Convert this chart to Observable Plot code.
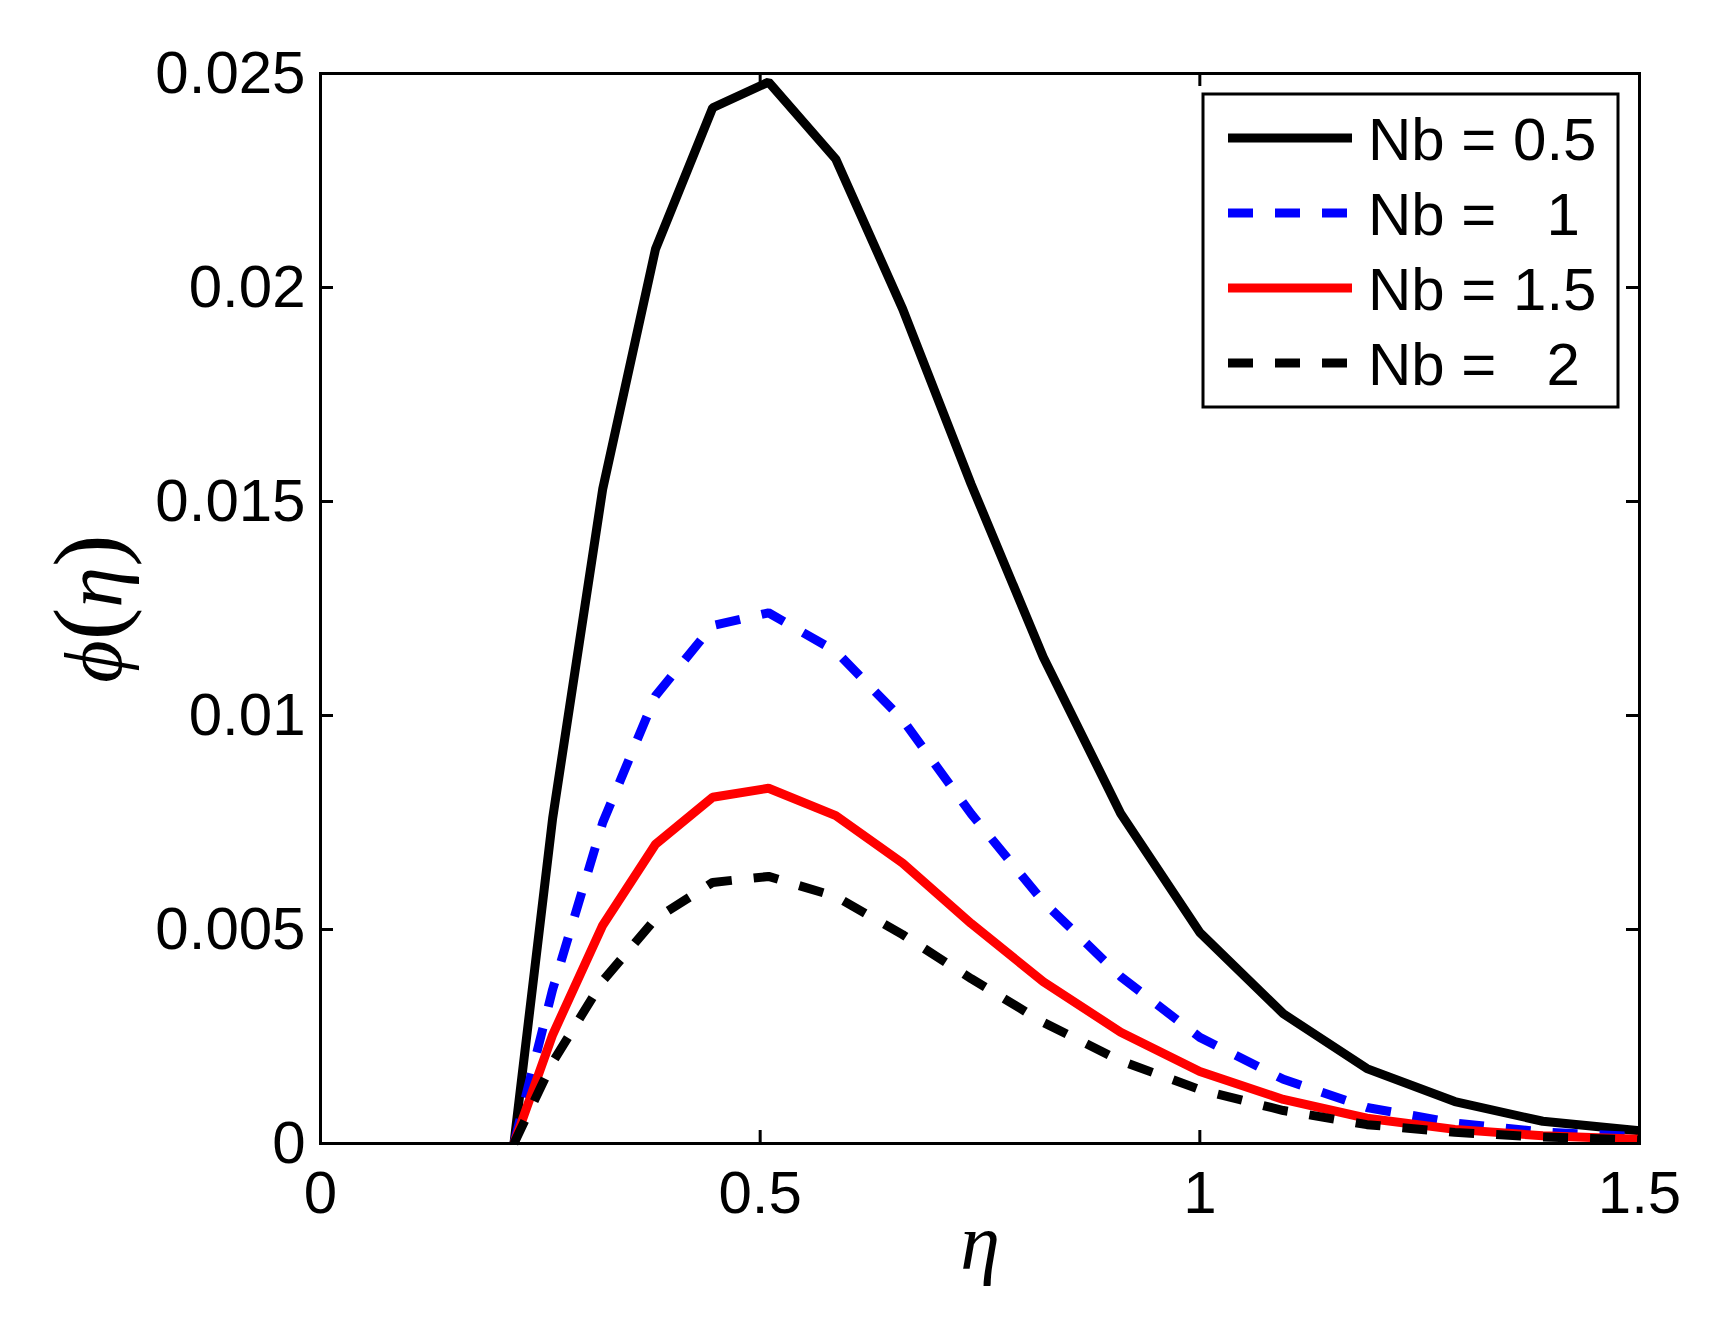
<!DOCTYPE html>
<html>
<head>
<meta charset="utf-8">
<script src="https://cdn.jsdelivr.net/npm/d3@7"></script>
<script src="https://cdn.jsdelivr.net/npm/@observablehq/plot@0.6"></script>
<style>
  html, body { margin: 0; padding: 0; background: #ffffff; }
  #chart svg { display: block; }
</style>
</head>
<body>
<div id="chart"></div>
<script>
// ---- data ----
const eta     = [0.22, 0.264, 0.321, 0.381, 0.446, 0.5095, 0.586, 0.662, 0.74, 0.822, 0.91, 1.0, 1.095, 1.19, 1.29, 1.39, 1.5];
const phiNb05 = [0, 0.0076, 0.0153, 0.0209, 0.0242, 0.0248, 0.0230, 0.0195, 0.0154, 0.01136, 0.00771, 0.00493, 0.00303, 0.00175, 0.00098, 0.00052, 0.00030];
const phiNb1  = [0, 0.0036, 0.0075, 0.01046, 0.0121, 0.0124, 0.0115, 0.0099, 0.0077, 0.00565, 0.0039, 0.00248, 0.00150, 0.00084, 0.00048, 0.00027, 0.00016];
const phiNb15 = [0, 0.00254, 0.0051, 0.00699, 0.00809, 0.0083, 0.00766, 0.00655, 0.00514, 0.00378, 0.00260, 0.00168, 0.00103, 0.00059, 0.00033, 0.00018, 0.00010];
const phiNb2  = [0, 0.0019, 0.0038, 0.00525, 0.0061, 0.00624, 0.00577, 0.00488, 0.00385, 0.00283, 0.00193, 0.00126, 0.00077, 0.00044, 0.00026, 0.00015, 0.00008];

const seriesNames  = ["Nb = 0.5", "Nb =   1", "Nb = 1.5", "Nb =   2"];
const seriesValues = [phiNb05, phiNb1, phiNb15, phiNb2];
const seriesColors = ["#000000", "#0000ff", "#ff0000", "#000000"];
const seriesDash   = [null, "25,22", null, "25,22"];

const xTicks = [0, 0.5, 1, 1.5];
const xTickLabels = ["0", "0.5", "1", "1.5"];
const yTicks = [0, 0.005, 0.01, 0.015, 0.02, 0.025];
const yTickLabels = ["0", "0.005", "0.01", "0.015", "0.02", "0.025"];
const xLabel = "η";
const yLabel = "ϕ(η)";

// ---- layout ----
const W = 1724, H = 1331;
const mL = 320, mR = 85, mT = 73, mB = 188;
const frameW = W - mL - mR, frameH = H - mT - mB;
const tickLen = 13;
const lineW = 9;
const sansFont = "'Liberation Sans', Arial, Helvetica, sans-serif";
const serifFont = "'Liberation Serif', 'Times New Roman', serif";

const rows = seriesNames.map((name, k) => eta.map((x, i) => ({eta: x, phi: seriesValues[k][i], series: name})));

const lineMarks = rows.map((data, k) => Plot.line(data, {
  x: "eta", y: "phi",
  stroke: seriesColors[k],
  strokeWidth: lineW,
  strokeDasharray: seriesDash[k] || undefined,
  strokeLinecap: "butt",
  strokeLinejoin: "miter"
}));

const chart = Plot.plot({
  width: W, height: H,
  marginLeft: mL, marginRight: mR, marginTop: mT, marginBottom: mB,
  x: {domain: [0, 1.5]},
  y: {domain: [0, 0.025]},
  style: {fontFamily: sansFont, fontSize: "60px", color: "#000", background: "#fff"},
  marks: [
    ...lineMarks,
    Plot.frame({stroke: "#000", strokeWidth: 3}),
    Plot.tickX(xTicks, {x: d => d, insetTop: frameH - tickLen, stroke: "#000", strokeWidth: 3}),
    Plot.tickX(xTicks, {x: d => d, insetBottom: frameH - tickLen, stroke: "#000", strokeWidth: 3}),
    Plot.tickY(yTicks, {y: d => d, insetRight: frameW - tickLen, stroke: "#000", strokeWidth: 3}),
    Plot.tickY(yTicks, {y: d => d, insetLeft: frameW - tickLen, stroke: "#000", strokeWidth: 3}),
    Plot.axisX(xTicks, {tickSize: 0, tickPadding: 27, tickFormat: d => xTickLabels[xTicks.indexOf(d)], label: null, fontSize: 60}),
    Plot.axisY(yTicks, {tickSize: 0, tickPadding: 15, tickFormat: d => yTickLabels[yTicks.indexOf(d)], label: null, fontSize: 60}),
    Plot.text([xLabel], {frameAnchor: "bottom", text: d => d, dy: 125, lineAnchor: "bottom", fontFamily: serifFont, fontStyle: "italic", fontSize: 80}),
    Plot.text([yLabel], {frameAnchor: "left", text: d => d, dx: -226, rotate: -90, textAnchor: "middle", lineAnchor: "middle", fontFamily: serifFont, fontSize: 82})
  ]
});

document.getElementById("chart").appendChild(chart);

const svg = d3.select(chart);

// italic ϕ and η, upright (larger) parentheses
svg.selectAll("text").filter(function () { return this.textContent === yLabel; })
  .html('<tspan font-style="italic">ϕ</tspan><tspan font-size="98">(</tspan><tspan font-style="italic">η</tspan><tspan font-size="98">)</tspan>');

// ---- legend (box in the upper right of the axes) ----
const leg = {x: 1203, y: 94, w: 415, h: 313, row0: 138, rowStep: 75, lineX1: 1228, lineX2: 1352, textX: 1368};
const g = svg.append("g").attr("class", "legend").attr("text-anchor", "start");
g.append("rect")
  .attr("x", leg.x).attr("y", leg.y).attr("width", leg.w).attr("height", leg.h)
  .attr("fill", "#fff").attr("stroke", "#000").attr("stroke-width", 3);
seriesNames.forEach((name, k) => {
  const cy = leg.row0 + k * leg.rowStep;
  g.append("line")
    .attr("x1", leg.lineX1).attr("x2", leg.lineX2).attr("y1", cy).attr("y2", cy)
    .attr("stroke", seriesColors[k]).attr("stroke-width", lineW)
    .attr("stroke-dasharray", seriesDash[k])
    .attr("stroke-linecap", "butt");
  g.append("text")
    .attr("x", leg.textX).attr("y", cy + 21.5)
    .attr("text-anchor", "start")
    .attr("font-family", sansFont).attr("font-size", 60)
    .attr("fill", "#000")
    .style("white-space", "pre")
    .attr("xml:space", "preserve")
    .text(name);
});
</script>
</body>
</html>
